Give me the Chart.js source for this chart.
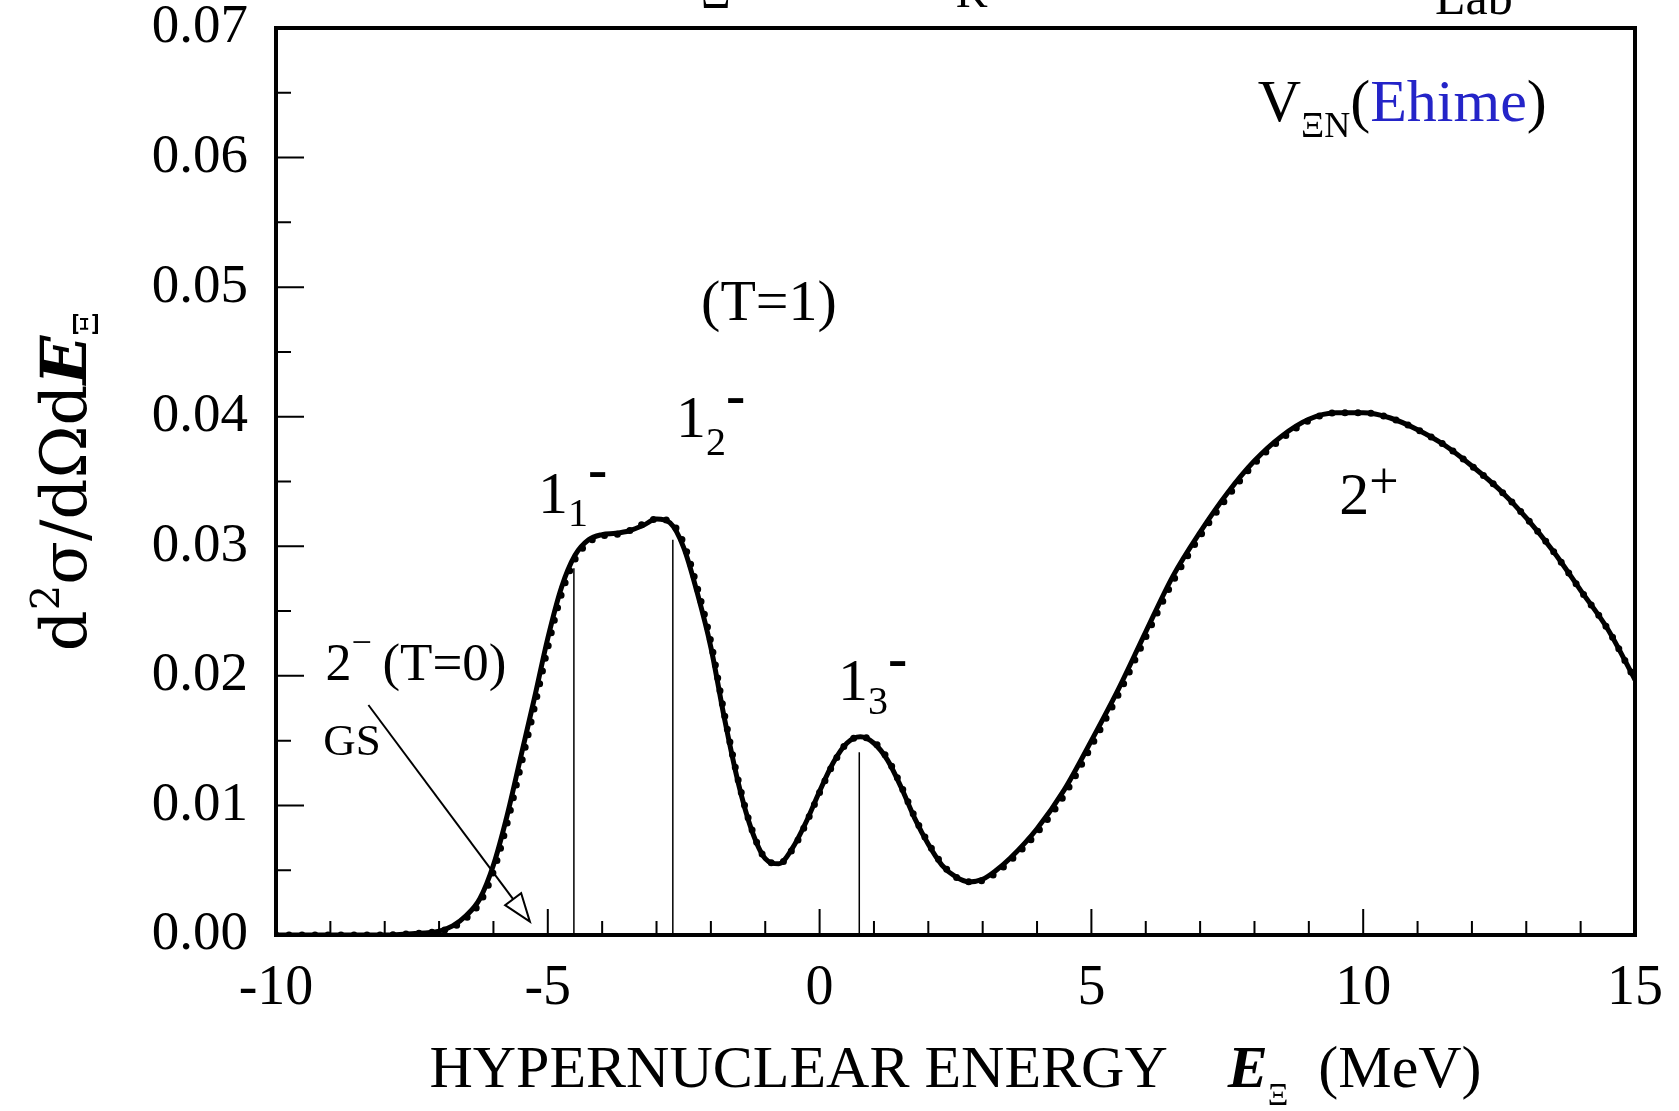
<!DOCTYPE html>
<html>
<head>
<meta charset="utf-8">
<script src="https://cdn.jsdelivr.net/npm/chart.js@4.4.0/dist/chart.umd.min.js"></script>
<style>
  html, body { margin: 0; padding: 0; background: #fff; }
  #wrap { width: 1679px; height: 1111px; position: relative; }
</style>
</head>
<body>
<div id="wrap"><canvas id="spectrum"></canvas></div>
<script>
// values (E in MeV, cross section)
const energy = [-10, -9, -8, -7.5, -7, -6.75, -6.5, -6.25, -6, -5.75, -5.5, -5.25, -5, -4.75, -4.5, -4.25, -4, -3.75, -3.5, -3.25, -3,
  -2.75, -2.5, -2.25, -2, -1.75, -1.5, -1.25, -1, -0.75, -0.5, -0.25, 0, 0.25, 0.5, 0.75, 1, 1.25, 1.5, 1.75, 2, 2.25, 2.5, 2.75, 3, 3.25, 3.5,
  4, 4.5, 5, 5.5, 6, 6.5, 7, 7.5, 8, 8.5, 9, 9.5, 10, 10.5, 11, 11.5, 12, 12.5, 13, 13.5, 14, 14.5, 15];
const sigmaSolid = [0, 0, 0, 0.0001, 0.0003, 0.0007, 0.0015, 0.0028, 0.0054, 0.0092, 0.0137, 0.0182, 0.0229, 0.0268, 0.0293, 0.0305, 0.0309, 0.0310, 0.0312, 0.0316, 0.0321,
  0.0318, 0.0299, 0.0264, 0.0222, 0.0167, 0.0118, 0.0081, 0.0059, 0.0055, 0.0067, 0.0087, 0.0111, 0.0133, 0.0148, 0.0153, 0.0148, 0.0135, 0.0114, 0.0090, 0.0070, 0.0054, 0.0045, 0.0041, 0.0043, 0.0050, 0.0059,
  0.0082, 0.0112, 0.0150, 0.0190, 0.0234, 0.0277, 0.0311, 0.0341, 0.0366, 0.0385, 0.0398, 0.0403, 0.0403, 0.0399, 0.0390, 0.0378, 0.0362, 0.0344, 0.0322, 0.0296, 0.0266, 0.0236, 0.0197];
const sigmaDotted = [0, 0, 0, 0.0001, 0.0003, 0.0006, 0.0013, 0.0025, 0.0049, 0.0086, 0.0130, 0.0175, 0.0222, 0.0263, 0.0290, 0.0303, 0.0308, 0.0309, 0.0312, 0.0317, 0.0321,
  0.0319, 0.0302, 0.0268, 0.0226, 0.0170, 0.0120, 0.0082, 0.0059, 0.0055, 0.0066, 0.0086, 0.0110, 0.0132, 0.0148, 0.0153, 0.0149, 0.0136, 0.0115, 0.0091, 0.0071, 0.0055, 0.0045, 0.0041, 0.0042, 0.0048, 0.0057,
  0.0079, 0.0108, 0.0146, 0.0186, 0.0230, 0.0273, 0.0308, 0.0338, 0.0364, 0.0383, 0.0397, 0.0403, 0.0403, 0.0399, 0.0390, 0.0378, 0.0362, 0.0344, 0.0322, 0.0296, 0.0266, 0.0236, 0.0197];

// 1- levels marked by thin sticks
const levelE = [-4.52, -2.70, 0.73];
const levelHeight = [0.0283, 0.0305, 0.0141];

const xTickValues = [-10, -5, 0, 5, 10, 15];
const xTickLabels = ['-10', '-5', '0', '5', '10', '15'];
const yTickValues = [0, 0.01, 0.02, 0.03, 0.04, 0.05, 0.06, 0.07];
const yTickLabels = ['0.00', '0.01', '0.02', '0.03', '0.04', '0.05', '0.06', '0.07'];

const serif = "'Liberation Serif', 'Times New Roman', serif";
const wideSerif = "'DejaVu Serif', serif";

function drawParts(ctx, x, y, parts) {
  for (const p of parts) {
    const [text, size, dy, color, style, family] = p;
    ctx.font = (style ? style + ' ' : '') + size + 'px ' + (family || serif);
    ctx.fillStyle = color || '#000';
    ctx.fillText(text, x, y + (dy || 0));
    x += ctx.measureText(text).width;
  }
  return x;
}
function partsWidth(ctx, parts) {
  let w = 0;
  for (const p of parts) {
    const [text, size, , , style, family] = p;
    ctx.font = (style ? style + ' ' : '') + size + 'px ' + (family || serif);
    w += ctx.measureText(text).width;
  }
  return w;
}

// labels placed at data coordinates (left edge, baseline)
const stateLabels = [
  { e: 8.06, v: 0.0628, parts: [['V', 60], ['\u039EN', 36, 16], ['(', 60], ['Ehime', 60, 0, '#2424c8'], [')', 60]] },
  { e: -2.18, v: 0.0475, parts: [['(T=1)', 58]] },
  { e: -5.18, v: 0.0326, parts: [['1', 60], ['1', 40, 13], ['-', 58, -25, null, 'bold']] },
  { e: -2.64, v: 0.0384, parts: [['1', 60], ['2', 40, 18], ['-', 58, -23, null, 'bold']] },
  { e: 0.34, v: 0.0181, parts: [['1', 60], ['3', 40, 14], ['-', 58, -23, null, 'bold']] },
  { e: 9.56, v: 0.0325, parts: [['2', 60], ['+', 52, -16]] },
  { e: -9.09, v: 0.0197, parts: [['2', 52], ['\u2212', 36, -26], ['\u2009(T=0)', 53]] },
  { e: -9.13, v: 0.0139, parts: [['GS', 45]] }
];
const gsArrow = { from: [-8.30, 0.01775], to: [-5.33, 0.00103] };

const frameAndTicks = {
  id: 'frameAndTicks',
  afterDatasetsDraw(chart) {
    const { ctx, chartArea: a, scales: { x, y } } = chart;
    ctx.save();
    ctx.strokeStyle = '#000';
    ctx.lineWidth = 2;
    ctx.beginPath();
    for (let e = -9; e < 15; e++) {
      const px = x.getPixelForValue(e);
      const len = e % 5 === 0 ? 26 : 14;
      ctx.moveTo(px, a.bottom);
      ctx.lineTo(px, a.bottom - len);
    }
    for (let k = 1; k < 14; k++) {
      const py = y.getPixelForValue(k * 0.005);
      const len = k % 2 === 0 ? 28 : 15;
      ctx.moveTo(a.left, py);
      ctx.lineTo(a.left + len, py);
    }
    ctx.stroke();
    ctx.lineWidth = 4;
    ctx.strokeRect(a.left, a.top, a.right - a.left, a.bottom - a.top);
    ctx.restore();
  }
};

const textLayer = {
  id: 'textLayer',
  afterDraw(chart) {
    const { ctx, chartArea: a, scales: { x, y } } = chart;
    ctx.save();
    ctx.textBaseline = 'alphabetic';
    ctx.textAlign = 'left';

    // level labels
    for (const l of stateLabels) {
      drawParts(ctx, x.getPixelForValue(l.e), y.getPixelForValue(l.v), l.parts);
    }

    // arrow to the ground state
    const x0 = x.getPixelForValue(gsArrow.from[0]), y0 = y.getPixelForValue(gsArrow.from[1]);
    const x1 = x.getPixelForValue(gsArrow.to[0]), y1 = y.getPixelForValue(gsArrow.to[1]);
    const ang = Math.atan2(y1 - y0, x1 - x0);
    const hl = 28, hw = 10;
    const bx = x1 - hl * Math.cos(ang), by = y1 - hl * Math.sin(ang);
    ctx.strokeStyle = '#000';
    ctx.lineWidth = 2;
    ctx.beginPath();
    ctx.moveTo(x0, y0);
    ctx.lineTo(bx, by);
    ctx.stroke();
    ctx.beginPath();
    ctx.moveTo(x1, y1);
    ctx.lineTo(bx + hw * Math.sin(ang), by - hw * Math.cos(ang));
    ctx.lineTo(bx - hw * Math.sin(ang), by + hw * Math.cos(ang));
    ctx.closePath();
    ctx.fillStyle = '#fff';
    ctx.fill();
    ctx.stroke();

    // x axis title
    const xTitle = [['HYPERNUCLEAR ENERGY', 60], ['\u2003', 60], ['E', 60, 0, null, 'italic bold'], ['\u039E', 32, 18], ['\u2002', 60], ['(MeV)', 60]];
    const cx = (a.left + a.right) / 2;
    drawParts(ctx, cx - partsWidth(ctx, xTitle) / 2, 1087, xTitle);

    // y axis title, rotated
    const yTitle = [['d', 64, 0, null, '', wideSerif], ['2', 40, -27, null, '', wideSerif], ['\u03C3/d\u03A9d', 64, 0, null, '', wideSerif],
      ['E', 64, 0, null, 'italic bold', wideSerif], ['\u039E', 34, 12, null, '', wideSerif]];
    ctx.save();
    ctx.translate(86, (a.top + a.bottom) / 2);
    ctx.rotate(-Math.PI / 2);
    drawParts(ctx, -partsWidth(ctx, yTitle) / 2, 0, yTitle);
    ctx.restore();

    // title line, cut off by the top edge of the figure
    drawParts(ctx, 701, 8, [['\u039E', 46]]);
    drawParts(ctx, 956, 7, [['K', 44]]);
    drawParts(ctx, 1381, -16, [['(\u03B8', 70]]);
    drawParts(ctx, 1435, 14, [['Lab', 50]]);
    drawParts(ctx, 1522, -16, [['=0\u00B0)', 70]]);
    ctx.restore();
  }
};

const stickPoints = levelE.flatMap((e, i) => [{ x: e, y: 0 }, { x: e, y: levelHeight[i] }, { x: e, y: null }]);

new Chart(document.getElementById('spectrum'), {
  type: 'scatter',
  data: {
    datasets: [
      {
        label: 'levels',
        data: stickPoints,
        showLine: true,
        spanGaps: false,
        borderColor: '#000',
        borderWidth: 1.5,
        tension: 0,
        pointRadius: 0
      },
      {
        label: 'solid',
        data: energy.map((e, i) => ({ x: e, y: sigmaSolid[i] })),
        showLine: true,
        borderColor: '#000',
        borderWidth: 5,
        cubicInterpolationMode: 'monotone',
        pointRadius: 0
      },
      {
        label: 'dotted',
        data: energy.map((e, i) => ({ x: e, y: sigmaDotted[i] })),
        showLine: true,
        borderColor: '#000',
        borderWidth: 7,
        borderDash: [0, 13],
        borderCapStyle: 'round',
        cubicInterpolationMode: 'monotone',
        pointRadius: 0
      }
    ]
  },
  options: {
    responsive: true,
    maintainAspectRatio: false,
    animation: false,
    layout: { padding: { top: 28, right: 44, left: 0, bottom: 0 } },
    plugins: { legend: { display: false }, tooltip: { enabled: false } },
    scales: {
      x: {
        type: 'linear',
        min: -10,
        max: 15,
        grid: { display: false, drawTicks: false },
        border: { display: false },
        afterBuildTicks: s => { s.ticks = xTickValues.map(v => ({ value: v })); },
        afterFit: s => { s.height = 176; s.paddingLeft = 0; s.paddingRight = 0; },
        ticks: {
          color: '#000',
          padding: 21,
          maxRotation: 0,
          font: { family: serif, size: 56 },
          callback: (v, i) => xTickLabels[i]
        }
      },
      y: {
        type: 'linear',
        min: 0,
        max: 0.07,
        grid: { display: false, drawTicks: false },
        border: { display: false },
        afterBuildTicks: s => { s.ticks = yTickValues.map(v => ({ value: v })); },
        afterFit: s => { s.width = 276; s.paddingTop = 0; s.paddingBottom = 0; },
        ticks: {
          color: '#000',
          padding: 28,
          font: { family: serif, size: 55 },
          callback: (v, i) => yTickLabels[i]
        }
      }
    }
  },
  plugins: [frameAndTicks, textLayer]
});
</script>
</body>
</html>
